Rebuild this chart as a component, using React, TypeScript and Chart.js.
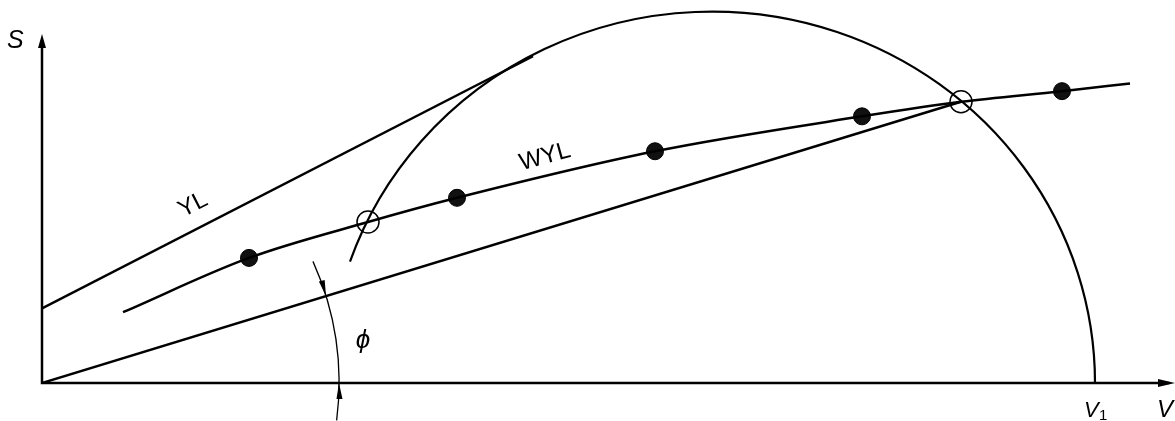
import { useEffect, useRef } from "react";
import { Chart, registerables } from "chart.js";

Chart.register(...registerables);

// Axis extents (data units)
const V_MAX = 1133;
const S_MAX = 395;
const S_AXIS_TOP = 360;

// Wedge yield line (WYL) through the test points
const wylV = [81, 207, 326, 415, 613, 820, 919, 1020, 1088];
const wylS = [73, 129, 166, 191, 239, 275, 290, 301, 309];

// Test points (filled)
const testV = [207, 415, 613, 820, 1020];
const testS = [129, 191, 239, 275, 301];

// Intersections of WYL with the stress circle (open)
const crossV = [326, 919];
const crossS = [166, 290];

// Yield line YL (tangent to the circle)
const ylV = [0, 491];
const ylS = [77, 337];

// Line from origin at angle phi
const phiLineV = [0, 919];
const phiLineS = [0, 290];

// Stress circle
const circleCenterV = 670;
const circleRadius = 383;
const arcStartV = 308;
const phiArcRadius = 297;

const FONT = '"Liberation Sans", Arial, sans-serif';

const pts = (xs: number[], ys: number[]) => xs.map((v, i) => ({ x: v, y: ys[i] }));

function arrowHead(ctx: CanvasRenderingContext2D, tx: number, ty: number, ang: number, len: number, hw: number) {
  const bx = tx - Math.cos(ang) * len;
  const by = ty - Math.sin(ang) * len;
  const nx = -Math.sin(ang) * hw;
  const ny = Math.cos(ang) * hw;
  ctx.beginPath();
  ctx.moveTo(tx, ty);
  ctx.lineTo(bx + nx, by + ny);
  ctx.lineTo(bx - nx, by - ny);
  ctx.closePath();
  ctx.fill();
}

const diagramPlugin = {
  id: "diagram",
  beforeDatasetsDraw(chart: any) {
    const { ctx } = chart;
    const x = chart.scales.x;
    const y = chart.scales.y;
    const ox = x.getPixelForValue(0);
    const oy = y.getPixelForValue(0);
    ctx.save();
    ctx.strokeStyle = "#000";
    ctx.fillStyle = "#000";

    // Axes
    ctx.lineWidth = 2.5;
    const vTip = x.getPixelForValue(V_MAX);
    const sTip = y.getPixelForValue(S_AXIS_TOP);
    ctx.beginPath();
    ctx.moveTo(ox, oy);
    ctx.lineTo(vTip - 6, oy);
    ctx.moveTo(ox, oy + 1.2);
    ctx.lineTo(ox, sTip + 6);
    ctx.stroke();
    arrowHead(ctx, vTip, oy, 0, 17, 4);
    arrowHead(ctx, ox, sTip, -Math.PI / 2, 14, 4);

    // Stress circle arc
    const cx = x.getPixelForValue(circleCenterV);
    const rx = x.getPixelForValue(circleCenterV + circleRadius) - cx;
    const ry = oy - y.getPixelForValue(circleRadius);
    const th = Math.acos((arcStartV - circleCenterV) / circleRadius);
    ctx.lineWidth = 2.2;
    ctx.beginPath();
    ctx.ellipse(cx, oy, rx, ry, 0, -th, 0, false);
    ctx.stroke();

    // Angle phi dimension arc
    const r = x.getPixelForValue(phiArcRadius) - ox;
    const lx = x.getPixelForValue(phiLineV[1]) - ox;
    const ly = y.getPixelForValue(phiLineS[1]) - oy;
    const a1 = Math.atan2(ly, lx);
    ctx.lineWidth = 1.3;
    ctx.beginPath();
    ctx.arc(ox, oy, r, a1 - 0.125, 0.126, false);
    ctx.stroke();
    arrowHead(ctx, ox + r * Math.cos(a1), oy + r * Math.sin(a1), a1 + Math.PI / 2 + 0.03, 16, 3);
    arrowHead(ctx, ox + r, oy, -Math.PI / 2 - 0.03, 16, 3);
    ctx.restore();
  },
  afterDatasetsDraw(chart: any) {
    const { ctx } = chart;
    ctx.save();
    ctx.fillStyle = "#000";
    ctx.textBaseline = "alphabetic";

    ctx.font = `italic 25px ${FONT}`;
    ctx.fillText("S", 7, 48);

    ctx.font = `italic 22px ${FONT}`;
    ctx.fillText("V", 1084, 417);
    ctx.font = `15px ${FONT}`;
    ctx.fillText("1", 1099, 420);
    ctx.font = `italic 24px ${FONT}`;
    ctx.fillText("V", 1157, 417);

    ctx.textAlign = "center";
    ctx.textBaseline = "middle";
    ctx.font = `italic 26px ${FONT}`;
    ctx.fillText("\u03D5", 363, 341);

    ctx.font = `24px ${FONT}`;
    ctx.save();
    ctx.translate(193, 205);
    ctx.rotate(-0.47);
    ctx.fillText("YL", 0, 0);
    ctx.restore();

    ctx.save();
    ctx.translate(545, 157);
    ctx.rotate(-0.27);
    ctx.fillText("WYL", 0, 0);
    ctx.restore();

    ctx.restore();
  },
};

export default function App() {
  const ref = useRef<HTMLCanvasElement>(null);
  useEffect(() => {
    if (!ref.current) return;
    const line = (xs: number[], ys: number[], extra: any = {}) => ({
      type: "line",
      data: pts(xs, ys),
      showLine: true,
      borderColor: "#000",
      borderWidth: 2.5,
      pointRadius: 0,
      fill: false,
      ...extra,
    });
    const chart = new Chart(ref.current, {
      type: "scatter",
      data: {
        datasets: [
          line(wylV, wylS, { tension: 0.4, cubicInterpolationMode: "monotone" }),
          line(ylV, ylS),
          line(phiLineV, phiLineS),
          {
            data: pts(testV, testS),
            pointRadius: 8.5,
            pointBackgroundColor: "#111",
            pointBorderColor: "#000",
            pointBorderWidth: 1,
            showLine: false,
          },
          {
            data: pts(crossV, crossS),
            pointRadius: 11,
            pointBackgroundColor: "rgba(0,0,0,0)",
            pointBorderColor: "#000",
            pointBorderWidth: 1.5,
            showLine: false,
          },
        ] as any,
      },
      options: {
        animation: false,
        responsive: true,
        maintainAspectRatio: false,
        events: [],
        layout: { autoPadding: false, padding: { left: 42, right: 0, top: 0, bottom: 38 } },
        plugins: { legend: { display: false }, tooltip: { enabled: false } },
        scales: {
          x: { type: "linear", min: 0, max: V_MAX, display: false },
          y: { type: "linear", min: 0, max: S_MAX, display: false },
        },
      },
      plugins: [diagramPlugin],
    });
    return () => chart.destroy();
  }, []);
  return (
    <div style={{ position: "fixed", left: 0, top: 0, width: 1175, height: 421, background: "#fff" }}>
      <canvas ref={ref} />
    </div>
  );
}
